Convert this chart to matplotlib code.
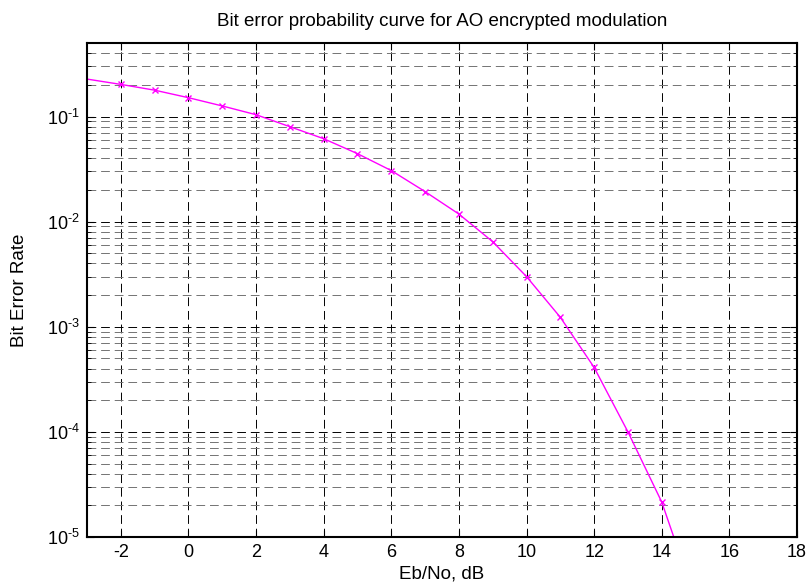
import numpy as np
import matplotlib
matplotlib.use("Agg")
import matplotlib.pyplot as plt
from matplotlib.ticker import LogLocator, NullFormatter, FuncFormatter

plt.rcParams['font.family'] = ['Liberation Sans', 'DejaVu Sans']
plt.rcParams['mathtext.fontset'] = 'custom'
plt.rcParams['mathtext.rm'] = 'Liberation Sans'
plt.rcParams['mathtext.it'] = 'Liberation Sans'
plt.rcParams['axes.unicode_minus'] = False

# Eb/No (dB) and bit error rate
ebno = [-3, -2, -1, 0, 1, 2, 3, 4, 5, 6, 7, 8, 9, 10, 11, 12, 13, 14, 15]
ber = [0.227, 0.202, 0.178, 0.151, 0.126, 0.104, 0.080, 0.0615, 0.0443,
       0.0306, 0.0193, 0.0118, 0.00644, 0.0030, 0.00123, 0.00041,
       1.0e-4, 2.15e-5, 2.5e-6]

xticks = [-2, 0, 2, 4, 6, 8, 10, 12, 14, 16, 18]


def decade_label(v, pos):
    n = int(round(np.log10(v)))
    return '10$^{\u2010%d}$' % abs(n) if n < 0 else '10$^{%d}$' % n


fig = plt.figure(figsize=(8.11, 5.87), dpi=100)
ax = fig.add_axes([0.1073, 0.0852, 0.8754, 0.8415])

ax.semilogy(ebno, ber, color='#ff00ff', linewidth=1.0, marker='x',
            markersize=5, markeredgewidth=1.0, markevery=slice(1, -1))

ax.set_xlim(-3, 18)
ax.set_ylim(1e-5, 0.5)
ax.set_xticks(xticks)
ax.yaxis.set_major_locator(LogLocator(base=10, numticks=10))
ax.yaxis.set_major_formatter(FuncFormatter(decade_label))
ax.yaxis.set_minor_locator(LogLocator(base=10, subs=np.arange(2, 10), numticks=20))
ax.yaxis.set_minor_formatter(NullFormatter())

dash = (0, (9, 5))
ax.grid(True, which='major', axis='both', linestyle=dash, color='black', linewidth=0.7)
ax.grid(True, which='minor', axis='y', linestyle=dash, color='0.45', linewidth=0.7)

ax.tick_params(which='both', direction='in', top=True, right=True, labelsize=13, pad=5)
ax.tick_params(which='major', length=5)
ax.tick_params(which='minor', length=3)
for s in ax.spines.values():
    s.set_linewidth(1.5)

ax.set_title('Bit error probability curve for AO encrypted modulation', fontsize=13.5, pad=12)
ax.set_xlabel('Eb/No, dB', fontsize=13.5, labelpad=3)
ax.set_ylabel('Bit Error Rate', fontsize=13.5, labelpad=14)

fig.savefig('out.png', dpi=100)
